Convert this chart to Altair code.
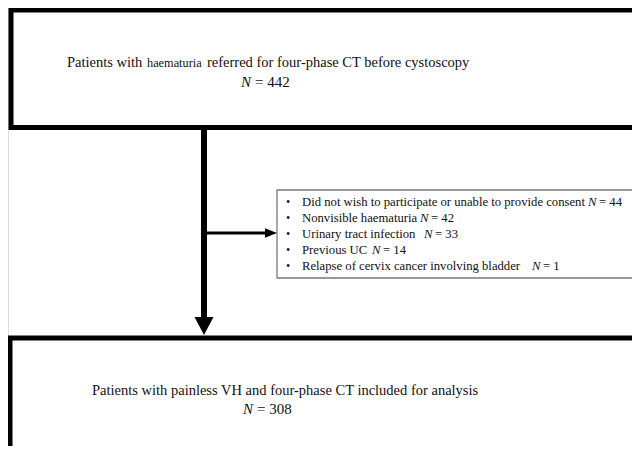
import altair as alt
import pandas as pd

# ---------------- data ----------------
top_parts = ["Patients with", "haematuria", "referred for four-phase CT before cystoscopy"]
top_n = 442
bottom_label = "Patients with painless VH and four-phase CT included for analysis"
bottom_n = 308
excl_reasons = [
    "Did not wish to participate or unable to provide consent",
    "Nonvisible haematuria",
    "Urinary tract infection",
    "Previous UC",
    "Relapse of cervix cancer involving bladder",
]
excl_counts = [44, 42, 33, 14, 1]

# ---------------- layout (page pixel coordinates) ----------------
W, H = 624, 438
xs = alt.Scale(domain=[8, 8 + W], range=[0, W])
ys = alt.Scale(domain=[8, 8 + H], range=[0, H])
X = lambda f: alt.X(f, type="quantitative", scale=xs, axis=None)
Y = lambda f: alt.Y(f, type="quantitative", scale=ys, axis=None)
X2 = lambda f: alt.X2(f)
Y2 = lambda f: alt.Y2(f)

FONT = "Liberation Serif"
TXT = "#111111"

top_part_x = [67, 147, 207]
top_part_size = [14.5, 12.3, 14.5]
top_base = 67
top_n_x, top_n_base = 241, 87
bot_x, bot_base = 92, 395
bot_n_x, bot_n_base = 243, 414
excl_text_x = 302
excl_bullet_x = 288
excl_base = [206, 222, 238, 254, 270]
excl_n_x = [588, 420, 424, 372, 532]
EXCL_SIZE = 12.7

layers = []

# boxes
boxes = pd.DataFrame({
    "x": [11, 10], "x2": [900, 900], "y": [10, 338], "y2": [127.5, 900],
})
layers.append(
    alt.Chart(boxes).mark_rect(fill="white", stroke="black", strokeWidth=5, clip=True)
    .encode(x=X("x"), x2=X2("x2"), y=Y("y"), y2=Y2("y2"))
)
excl_box = pd.DataFrame({"x": [277], "x2": [900], "y": [190], "y2": [278]})
layers.append(
    alt.Chart(excl_box).mark_rect(fill="white", stroke="#7a7a7a", strokeWidth=1.3, clip=True)
    .encode(x=X("x"), x2=X2("x2"), y=Y("y"), y2=Y2("y2"))
)

# arrows
vline = pd.DataFrame({"x": [204], "y": [129], "y2": [320]})
layers.append(
    alt.Chart(vline).mark_rule(color="black", strokeWidth=6)
    .encode(x=X("x"), y=Y("y"), y2=Y2("y2"))
)
hline = pd.DataFrame({"x": [205], "x2": [267], "y": [233]})
layers.append(
    alt.Chart(hline).mark_rule(color="black", strokeWidth=3)
    .encode(x=X("x"), x2=X2("x2"), y=Y("y"))
)
vhead = pd.DataFrame({"x": [204], "y": [326]})
layers.append(
    alt.Chart(vhead).mark_point(shape="M-1,-0.95L1,-0.95L0,0.95Z", size=361, filled=True,
                                color="black", opacity=1)
    .encode(x=X("x"), y=Y("y"))
)
hhead = pd.DataFrame({"x": [271], "y": [233]})
layers.append(
    alt.Chart(hhead).mark_point(shape="M-1,-0.8L1,0L-1,0.8Z", size=144, filled=True,
                                color="black", opacity=1)
    .encode(x=X("x"), y=Y("y"))
)

def text_layer(df, size, italic=False, align="left"):
    return alt.Chart(df).mark_text(
        font=FONT, fontSize=size, fontStyle="italic" if italic else "normal",
        align=align, baseline="alphabetic", color=TXT, clip=True,
    ).encode(x=X("x"), y=Y("y"), text="t:N")

# top box text
for t, x, s in zip(top_parts, top_part_x, top_part_size):
    layers.append(text_layer(pd.DataFrame({"x": [x], "y": [top_base], "t": [t]}), s))
layers.append(text_layer(pd.DataFrame({"x": [top_n_x], "y": [top_n_base], "t": ["N"]}), 15, italic=True))
layers.append(text_layer(pd.DataFrame({"x": [top_n_x + 14], "y": [top_n_base], "t": [f"= {top_n}"]}), 15))

# bottom box text
layers.append(text_layer(pd.DataFrame({"x": [bot_x], "y": [bot_base], "t": [bottom_label]}), 14.5))
layers.append(text_layer(pd.DataFrame({"x": [bot_n_x], "y": [bot_n_base], "t": ["N"]}), 15, italic=True))
layers.append(text_layer(pd.DataFrame({"x": [bot_n_x + 14], "y": [bot_n_base], "t": [f"= {bottom_n}"]}), 15))

# exclusion list
excl = pd.DataFrame({
    "reason": excl_reasons, "count": excl_counts,
    "y": excl_base, "nx": excl_n_x,
})
bullets = pd.DataFrame({"x": [excl_bullet_x] * len(excl), "y": excl["y"], "t": ["•"] * len(excl)})
layers.append(text_layer(bullets, 12, align="center"))
reasons = pd.DataFrame({"x": [excl_text_x] * len(excl), "y": excl["y"], "t": excl["reason"]})
layers.append(text_layer(reasons, EXCL_SIZE))
ns = pd.DataFrame({"x": excl["nx"], "y": excl["y"], "t": ["N"] * len(excl)})
layers.append(text_layer(ns, EXCL_SIZE, italic=True))
vals = pd.DataFrame({"x": excl["nx"] + 11, "y": excl["y"], "t": ["= " + str(c) for c in excl["count"]]})
layers.append(text_layer(vals, EXCL_SIZE))

chart = (
    alt.layer(*layers)
    .properties(width=W, height=H, padding=0, autosize=alt.AutoSizeParams(type="none"))
    .configure_view(stroke=None)
    .configure(background="white")
)

chart.save("out.html", embed_options={"renderer": "svg", "actions": False})
